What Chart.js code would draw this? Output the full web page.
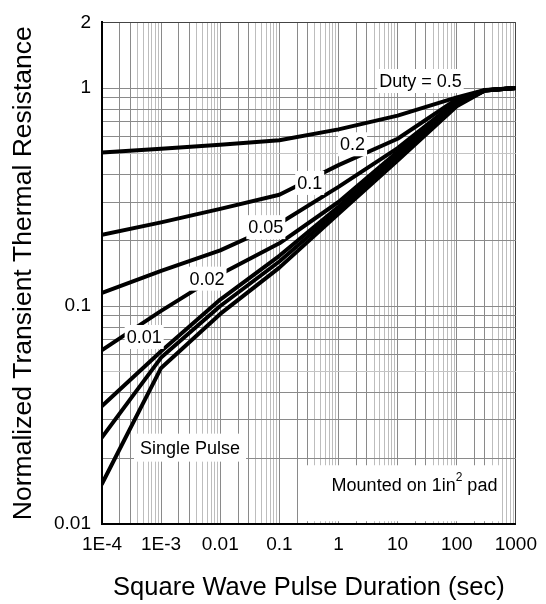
<!DOCTYPE html>
<html>
<head>
    <title>Transient Thermal Resistance</title>
    <script src="https://cdn.jsdelivr.net/npm/chart.js"></script>
    <style>
        body { margin: 0; background: #fff; }
        .chart-container { width: 546px; height: 604px; }
    </style>
</head>
<body>
    <div class="chart-container">
        <canvas id="thermalChart" width="546" height="604"></canvas>
    </div>

    <script>
        // pulse durations (sec) where each curve is sampled
        const pulseTimes = [1e-4, 1e-3, 1e-2, 1e-1, 1, 10, 100, 300, 1000];

        // normalized transient thermal resistance for each duty cycle
        const duty050 = [0.506, 0.527, 0.549, 0.576, 0.646, 0.747, 0.906, 0.98, 1.0];
        const duty020 = [0.212, 0.242, 0.279, 0.324, 0.443, 0.585, 0.89, 0.978, 1.0];
        const duty010 = [0.115, 0.145, 0.180, 0.239, 0.352, 0.53, 0.87, 0.976, 1.0];
        const duty005 = [0.0628, 0.095, 0.14, 0.194, 0.30, 0.51, 0.86, 0.975, 1.0];
        const duty002 = [0.0348, 0.062, 0.107, 0.17, 0.285, 0.495, 0.85, 0.975, 1.0];
        const duty001 = [0.025, 0.058, 0.1, 0.16, 0.275, 0.48, 0.84, 0.975, 1.0];
        const singlePulse = [0.0153, 0.052, 0.092, 0.15, 0.265, 0.465, 0.825, 0.975, 1.0];

        // axis tick labels
        const xLabelValues = [1e-4, 1e-3, 0.01, 0.1, 1, 10, 100, 1000];
        const xLabelText = ['1E-4', '1E-3', '0.01', '0.1', '1', '10', '100', '1000'];
        const yLabelValues = [0.01, 0.1, 1, 2];
        const yLabelText = ['0.01', '0.1', '1', '2'];

        const FONT = '"Liberation Sans", Arial, sans-serif';

        // 1..9 per decade, used for the log grid
        function logGrid(fromExp, toExp, last) {
            const vals = [];
            for (let e = fromExp; e < toExp; e++) {
                for (let m = 1; m <= 9; m++) vals.push(Number((m * Math.pow(10, e)).toPrecision(3)));
            }
            vals.push(last);
            return vals;
        }
        const xGrid = logGrid(-4, 3, 1000);
        const yGrid = logGrid(-2, 0, 1).concat([2]);

        function sameLog(a, b) {
            return Math.abs(Math.log10(a) - Math.log10(b)) < 1e-6;
        }
        function labelFor(value, values, texts) {
            const i = values.findIndex(v => sameLog(v, value));
            return i >= 0 ? texts[i] : '';
        }
        function mantissa(v) {
            return Math.round(v / Math.pow(10, Math.floor(Math.log10(v) + 1e-9)));
        }

        function series(values) {
            return pulseTimes.map((t, i) => ({ x: t, y: values[i] }));
        }
        function curve(label, values) {
            return {
                label: label,
                data: series(values),
                borderColor: '#000',
                borderWidth: 4,
                borderJoinStyle: 'round',
                borderCapStyle: 'round',
                pointRadius: 0,
                tension: 0,
                fill: false
            };
        }

        // text notes placed in data coordinates, drawn on a white patch
        const notes = [
            { text: 'Duty = 0.5', x: 24.3, y: 1.077 },
            { text: '0.2', x: 1.73, y: 0.552 },
            { text: '0.1', x: 0.326, y: 0.367 },
            { text: '0.05', x: 0.059, y: 0.23 },
            { text: '0.02', x: 0.00597, y: 0.1335 },
            { text: '0.01', x: 5.17e-4, y: 0.0721 },
            { text: 'Single Pulse', x: 0.00308, y: 0.0224, padX: 6, padY: 5 }
        ];
        const padNote = { x1: 0.29, x2: 565, y1: 0.0186, y2: 0.0103, x: 19.3, y: 0.01492 };

        const notesPlugin = {
            id: 'notes',
            beforeDatasetsDraw(chart) {
                const ctx = chart.ctx;
                const xs = chart.scales.x, ys = chart.scales.y;
                const l = xs.getPixelForValue(padNote.x1), r = xs.getPixelForValue(padNote.x2);
                const t = ys.getPixelForValue(padNote.y1), b = ys.getPixelForValue(padNote.y2);
                ctx.save();
                ctx.fillStyle = '#fff';
                ctx.fillRect(l, t, r - l, b - t);

                // "Mounted on 1in² pad" with a raised 2
                const big = '18px ' + FONT, small = '12px ' + FONT;
                const a = 'Mounted on 1in', s = '2', c = ' pad';
                ctx.font = big;
                const wa = ctx.measureText(a).width, wc = ctx.measureText(c).width;
                ctx.font = small;
                const ws = ctx.measureText(s).width;
                const total = wa + ws + wc;
                let px = xs.getPixelForValue(padNote.x) - total / 2;
                const py = ys.getPixelForValue(padNote.y);
                ctx.fillStyle = '#000';
                ctx.textBaseline = 'middle';
                ctx.textAlign = 'left';
                ctx.font = big;
                ctx.fillText(a, px, py);
                ctx.font = small;
                ctx.fillText(s, px + wa, py - 8);
                ctx.font = big;
                ctx.fillText(c, px + wa + ws, py);
                ctx.restore();
            },
            afterDatasetsDraw(chart) {
                const ctx = chart.ctx;
                const xs = chart.scales.x, ys = chart.scales.y;
                ctx.save();
                ctx.font = '18px ' + FONT;
                ctx.textAlign = 'center';
                ctx.textBaseline = 'middle';
                notes.forEach(n => {
                    const px = xs.getPixelForValue(n.x);
                    const py = ys.getPixelForValue(n.y);
                    const w = ctx.measureText(n.text).width;
                    const padX = n.padX || 2, padY = n.padY || 3;
                    ctx.fillStyle = '#fff';
                    ctx.fillRect(px - w / 2 - padX, py - 9 - padY, w + padX * 2, 18 + padY * 2);
                    ctx.fillStyle = '#000';
                    ctx.fillText(n.text, px, py + 1);
                });
                ctx.restore();
            }
        };

        const ctx = document.getElementById('thermalChart').getContext('2d');
        const chart = new Chart(ctx, {
            type: 'line',
            data: {
                datasets: [
                    curve('0.5', duty050),
                    curve('0.2', duty020),
                    curve('0.1', duty010),
                    curve('0.05', duty005),
                    curve('0.02', duty002),
                    curve('0.01', duty001),
                    curve('Single Pulse', singlePulse)
                ]
            },
            options: {
                responsive: false,
                animation: false,
                layout: { padding: { left: 0, right: 29, top: 17, bottom: 0 } },
                plugins: {
                    legend: { display: false },
                    tooltip: { enabled: false }
                },
                scales: {
                    x: {
                        type: 'logarithmic',
                        min: 1e-4,
                        max: 1000,
                        afterBuildTicks: scale => { scale.ticks = xGrid.map(v => ({ value: v })); },
                        afterFit: scale => { scale.height = 80; },
                        grid: {
                            drawTicks: false,
                            lineWidth: 1,
                            color: c => {
                                const v = c.tick ? c.tick.value : 1;
                                if (sameLog(v, 1000)) return '#444';
                                return mantissa(v) <= 3 ? '#8a8a8a' : '#bdbdbd';
                            }
                        },
                        border: { color: '#000', width: 2 },
                        ticks: {
                            autoSkip: false,
                            maxRotation: 0,
                            minRotation: 0,
                            padding: 9,
                            color: '#000',
                            font: { family: FONT, size: 19 },
                            callback: v => labelFor(v, xLabelValues, xLabelText)
                        },
                        title: {
                            display: true,
                            text: 'Square Wave Pulse Duration (sec)',
                            color: '#000',
                            font: { family: FONT, size: 25.5 },
                            padding: { top: 0, bottom: 1 }
                        }
                    },
                    y: {
                        type: 'logarithmic',
                        min: 0.01,
                        max: 2,
                        afterBuildTicks: scale => { scale.ticks = yGrid.map(v => ({ value: v })); },
                        afterFit: scale => { scale.width = 102; },
                        grid: {
                            drawTicks: false,
                            lineWidth: 1,
                            color: c => {
                                const v = c.tick ? c.tick.value : 1;
                                if (sameLog(v, 2)) return '#444';
                                return mantissa(v) === 5 ? '#c4c4c4' : '#8a8a8a';
                            }
                        },
                        border: { color: '#000', width: 2 },
                        ticks: {
                            autoSkip: false,
                            padding: 11,
                            color: '#000',
                            font: { family: FONT, size: 19 },
                            callback: v => labelFor(v, yLabelValues, yLabelText)
                        },
                        title: {
                            display: true,
                            text: 'Normalized Transient Thermal Resistance',
                            color: '#000',
                            font: { family: FONT, size: 26.5 },
                            padding: { top: 8, bottom: 0 }
                        }
                    }
                }
            },
            plugins: [notesPlugin]
        });
    </script>
</body>
</html>
